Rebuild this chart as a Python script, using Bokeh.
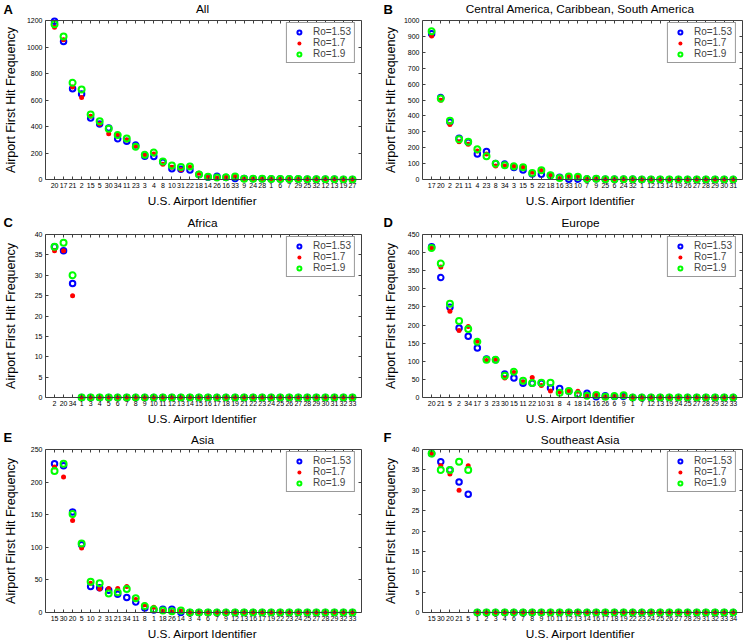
import math
from bokeh.plotting import figure
from bokeh.models import Range1d, LinearAxis, FixedTicker, Label, Legend, LegendItem
from bokeh.layouts import column, row
from bokeh.embed import file_html
from bokeh.resources import INLINE

FONT = "Liberation Sans"

series_labels = ["Ro=1.53", "Ro=1.7", "Ro=1.9"]
letters = ["A", "B", "C", "D", "E", "F"]
titles = ["All", "Central America, Caribbean, South America", "Africa",
          "Europe", "Asia", "Southeast Asia"]
x_title = "U.S. Airport Identifier"
y_title = "Airport First Hit Frequency"

# Panel A - All
cats_A = [20, 17, 21, 2, 15, 5, 30, 34, 11, 23, 3, 4, 8, 10, 31, 22, 18, 14, 26, 16, 33,
          9, 24, 28, 1, 6, 7, 29, 25, 32, 12, 13, 19, 27]
blue_A = [1195, 1041, 685, 646, 465, 418, 388, 307, 289, 260, 176, 173, 131, 82, 77, 72, 37,
          17, 25, 15, 7, 7, 6, 5, 4, 3, 3, 3, 2, 1, 1, 1, 0, 0]
red_A = [1150, 1054, 698, 618, 477, 418, 346, 341, 299, 255, 181, 193, 116, 92, 74, 92, 47,
         15, 12, 17, 22, 6, 6, 5, 4, 3, 3, 2, 2, 1, 1, 1, 0, 0]
green_A = [1172, 1079, 730, 680, 490, 440, 383, 336, 309, 247, 186, 203, 136, 106, 94, 99, 37,
           20, 15, 17, 22, 6, 6, 5, 4, 3, 3, 3, 2, 1, 1, 1, 0, 0]

# Panel B - Central America, Caribbean, South America
cats_B = [17, 20, 2, 21, 11, 4, 23, 8, 34, 3, 15, 5, 22, 18, 16, 33, 10, 7, 9, 25, 6, 24,
          32, 1, 12, 13, 14, 19, 26, 27, 28, 29, 30, 31]
blue_B = [917, 515, 362, 259, 234, 161, 176, 101, 97, 75, 60, 35, 33, 25, 14, 2, 2, 3, 4, 2,
          1, 1, 1, 0, 0, 0, 0, 0, 0, 0, 0, 0, 0, 0]
red_B = [903, 499, 346, 238, 221, 180, 161, 85, 85, 83, 77, 46, 56, 25, 6, 19, 19, 3, 4, 2,
         1, 1, 1, 0, 0, 0, 0, 0, 0, 0, 0, 0, 0, 0]
green_B = [932, 509, 370, 253, 238, 190, 147, 99, 89, 83, 77, 41, 58, 27, 10, 19, 18, 3, 4, 2,
           1, 1, 1, 0, 0, 0, 0, 0, 0, 0, 0, 0, 0, 0]

# Panel C - Africa
cats_C = [2, 20, 34, 1, 3, 4, 5, 6, 7, 8, 9, 10, 11, 12, 13, 14, 15, 16, 17, 18, 19, 21, 22,
          23, 24, 25, 26, 27, 28, 29, 30, 31, 32, 33]
blue_C = [37, 36, 28, 0, 0, 0, 0, 0, 0, 0, 0, 0, 0, 0, 0, 0, 0, 0, 0, 0, 0, 0, 0, 0, 0, 0,
          0, 0, 0, 0, 0, 0, 0, 0]
red_C = [36, 36, 25, 0, 0, 0, 0, 0, 0, 0, 0, 0, 0, 0, 0, 0, 0, 0, 0, 0, 0, 0, 0, 0, 0, 0,
         0, 0, 0, 0, 0, 0, 0, 0]
green_C = [37, 38, 30, 0, 0, 0, 0, 0, 0, 0, 0, 0, 0, 0, 0, 0, 0, 0, 0, 0, 0, 0, 0, 0, 0, 0,
           0, 0, 0, 0, 0, 0, 0, 0]

# Panel D - Europe
cats_D = [20, 21, 5, 2, 34, 17, 3, 23, 30, 15, 11, 22, 10, 31, 8, 4, 18, 14, 16, 26, 6, 9,
          1, 7, 12, 13, 19, 24, 25, 27, 28, 29, 32, 33]
blue_D = [416, 331, 249, 192, 169, 137, 106, 104, 65, 54, 39, 39, 39, 26, 25, 17, 9, 12, 2,
          5, 3, 3, 0, 0, 0, 0, 0, 0, 0, 0, 0, 0, 0, 0]
red_D = [413, 360, 238, 185, 196, 155, 102, 106, 54, 69, 43, 55, 33, 18, 16, 18, 17, 6, 7,
         2, 3, 3, 0, 0, 0, 0, 0, 0, 0, 0, 0, 0, 0, 0]
green_D = [413, 370, 259, 211, 189, 154, 104, 104, 60, 71, 46, 40, 41, 41, 13, 18, 9, 5, 7,
           2, 4, 6, 0, 0, 0, 0, 0, 0, 0, 0, 0, 0, 0, 0]

# Panel E - Asia
cats_E = [15, 30, 20, 5, 10, 2, 31, 21, 34, 11, 8, 1, 18, 26, 14, 3, 4, 6, 7, 9, 12, 13, 16,
          17, 19, 22, 23, 24, 25, 27, 28, 29, 32, 33]
blue_E = [228, 225, 154, 104, 40, 38, 34, 28, 23, 16, 7, 4, 5, 5, 0, 0, 0, 0, 0, 0, 0, 0, 0,
          0, 0, 0, 0, 0, 0, 0, 0, 0, 0, 0]
red_E = [223, 208, 141, 99, 45, 36, 37, 37, 40, 20, 12, 8, 2, 1, 2, 0, 0, 0, 0, 0, 0, 0, 0,
         0, 0, 0, 0, 0, 0, 0, 0, 0, 0, 0]
green_E = [217, 228, 151, 106, 47, 45, 29, 31, 36, 22, 10, 5, 3, 2, 3, 0, 0, 0, 0, 0, 0, 0,
           0, 0, 0, 0, 0, 0, 0, 0, 0, 0, 0, 0]

# Panel F - Southeast Asia
cats_F = [15, 30, 20, 21, 5, 1, 2, 3, 4, 6, 7, 8, 9, 10, 11, 12, 13, 14, 16, 17, 18, 19, 22,
          23, 24, 25, 26, 27, 28, 29, 31, 32, 33, 34]
blue_F = [39, 37, 35, 32, 29, 0, 0, 0, 0, 0, 0, 0, 0, 0, 0, 0, 0, 0, 0, 0, 0, 0, 0, 0, 0, 0,
          0, 0, 0, 0, 0, 0, 0, 0]
red_F = [39, 36, 34, 30, 36, 0, 0, 0, 0, 0, 0, 0, 0, 0, 0, 0, 0, 0, 0, 0, 0, 0, 0, 0, 0, 0,
         0, 0, 0, 0, 0, 0, 0, 0]
green_F = [39, 35, 35, 37, 35, 0, 0, 0, 0, 0, 0, 0, 0, 0, 0, 0, 0, 0, 0, 0, 0, 0, 0, 0, 0, 0,
           0, 0, 0, 0, 0, 0, 0, 0]

y_max = [1200, 1000, 40, 450, 250, 40]
y_step = [200, 100, 5, 50, 50, 5]

panel_data = [
    (cats_A, blue_A, red_A, green_A),
    (cats_B, blue_B, red_B, green_B),
    (cats_C, blue_C, red_C, green_C),
    (cats_D, blue_D, red_D, green_D),
    (cats_E, blue_E, red_E, green_E),
    (cats_F, blue_F, red_F, green_F),
]

AX_COLOR = "#404040"
TICK_FS = 7
LABEL_FS = "11.8px"
YLABEL_FS = "12.5px"
PAGE_W = 748

# column geometry: figure width, left/right borders
COL_GEOM = [dict(width=380, bl=43, br=19, letter_x=3, ylab_gap=22),
            dict(width=368, bl=38, br=6, letter_x=383, ylab_gap=19)]
COL_X0 = [0, 380]
ROW_H = [178, 182, 182]
FIG_BB = 11
PAD = 4

# strips between rows: height, and (kind, offset from strip top, row index)
STRIPS = [
    dict(h=16, items=[("title", 8.5, 0), ("letter", 8.5, 0)]),
    dict(h=36, items=[("xlabel", 6, 0), ("title", 28.5, 1), ("letter", 28, 1)]),
    dict(h=33, items=[("xlabel", 6, 1), ("title", 27, 2), ("letter", 25, 2)]),
    dict(h=13, items=[("xlabel", 6.5, 2)]),
]


def style_axis(ax, show_labels, show_line=True):
    ax.axis_line_color = AX_COLOR if show_line else None
    ax.axis_line_width = 1
    ax.major_tick_line_color = AX_COLOR if show_line else None
    ax.major_tick_in = 3
    ax.major_tick_out = 0
    ax.minor_tick_line_color = None
    ax.major_label_text_font = FONT
    if show_labels:
        ax.major_label_text_color = "black"
        ax.major_label_text_font_size = f"{TICK_FS}px"
        ax.major_label_standoff = 3
    else:
        ax.major_label_text_color = None
        ax.major_label_text_font_size = "0px"
        ax.major_label_standoff = 0


def frame_center_x(col):
    cg = COL_GEOM[col]
    fw = cg["width"] - cg["bl"] - cg["br"]
    return COL_X0[col] + cg["bl"] + fw / 2


def build(idx):
    cats, blue, red, green = panel_data[idx]
    cg = COL_GEOM[idx % 2]
    fig_h = ROW_H[idx // 2]
    frame_h = fig_h - FIG_BB
    ymax = y_max[idx]
    u = ymax / (frame_h - 2 * PAD)
    n = len(cats)
    xs = list(range(1, n + 1))

    p = figure(width=cg["width"], height=fig_h, title=None,
               x_range=Range1d(0, n + 1), y_range=Range1d(-PAD * u, ymax + PAD * u),
               output_backend="svg", toolbar_location=None, tools="",
               min_border_left=cg["bl"], min_border_right=cg["br"],
               min_border_top=0, min_border_bottom=FIG_BB)
    p.outline_line_color = None
    p.xgrid.visible = False
    p.ygrid.visible = False
    p.background_fill_color = "white"
    p.border_fill_color = "white"

    xt = FixedTicker(ticks=xs)
    nt = int(round(ymax / y_step[idx]))
    yticks = [k * y_step[idx] for k in range(nt + 1)]
    yt = FixedTicker(ticks=yticks)

    # labelled x axis at the frame bottom; labels pulled up so they sit just under y=0
    xa = p.xaxis[0]
    xa.ticker = xt
    xa.major_label_overrides = {x: str(c) for x, c in zip(xs, cats)}
    style_axis(xa, True, show_line=False)
    xa.major_tick_in = 0
    xa.major_tick_out = 0
    xa.major_label_standoff = 3 - PAD

    # box line + inward ticks at y = 0
    zero = LinearAxis(ticker=xt, fixed_location=0)
    style_axis(zero, False)
    p.add_layout(zero, "below")

    ya = p.yaxis[0]
    ya.ticker = yt
    ya.bounds = (0, ymax)
    style_axis(ya, True)
    label_w = max(len(str(t)) for t in yticks) * 0.556 * TICK_FS
    ya.axis_label = y_title
    ya.axis_label_text_font = FONT
    ya.axis_label_text_font_size = YLABEL_FS
    ya.axis_label_text_font_style = "normal"
    ya.axis_label_text_color = "black"
    ya.axis_label_standoff = max(1, int(round(cg["ylab_gap"] - label_w)))

    top = LinearAxis(ticker=xt, fixed_location=ymax)
    style_axis(top, False)
    p.add_layout(top, "above")
    right = LinearAxis(ticker=yt, bounds=(0, ymax))
    style_axis(right, False)
    p.add_layout(right, "right")

    rb = p.scatter(xs, blue, marker="circle", size=5.5, fill_color=None,
                   line_color="#0000ff", line_width=2)
    rr = p.scatter(xs, red, marker="circle", size=5, fill_color="#ff0000",
                   line_color=None)
    rgn = p.scatter(xs, green, marker="circle", size=6, fill_color=None,
                    line_color="#00ff00", line_width=2)

    leg = Legend(items=[LegendItem(label=series_labels[0], renderers=[rb]),
                        LegendItem(label=series_labels[1], renderers=[rr]),
                        LegendItem(label=series_labels[2], renderers=[rgn])],
                 location="top_right", margin=6, padding=3, spacing=0,
                 glyph_width=18, glyph_height=10, label_height=10, label_standoff=5,
                 label_text_font=FONT, label_text_font_size="10px",
                 border_line_color="#333333", border_line_width=1,
                 background_fill_color="white", background_fill_alpha=1)
    p.add_layout(leg)
    return p


def build_strip(spec):
    h = spec["h"]
    s = figure(width=PAGE_W, height=h, title=None, x_range=Range1d(0, PAGE_W),
               y_range=Range1d(0, h), output_backend="svg", toolbar_location=None,
               tools="", x_axis_location=None, y_axis_location=None,
               min_border_left=0, min_border_right=0, min_border_top=0,
               min_border_bottom=0)
    s.outline_line_color = None
    s.xgrid.visible = False
    s.ygrid.visible = False
    s.background_fill_color = "white"
    s.border_fill_color = "white"
    for kind, d, r in spec["items"]:
        for col in range(2):
            idx = r * 2 + col
            if kind == "title":
                s.add_layout(Label(x=frame_center_x(col), y=h - d, x_units="screen",
                                   y_units="screen", text=titles[idx], text_font=FONT,
                                   text_font_size=LABEL_FS, text_align="center",
                                   text_baseline="middle", text_color="black"))
            elif kind == "letter":
                s.add_layout(Label(x=COL_GEOM[col]["letter_x"], y=h - d, x_units="screen",
                                   y_units="screen", text=letters[idx], text_font=FONT,
                                   text_font_size="13px", text_font_style="bold",
                                   text_align="left", text_baseline="middle",
                                   text_color="black"))
            else:
                s.add_layout(Label(x=frame_center_x(col), y=h - d, x_units="screen",
                                   y_units="screen", text=x_title, text_font=FONT,
                                   text_font_size=LABEL_FS, text_align="center",
                                   text_baseline="middle", text_color="black"))
    return s


figs = [build(i) for i in range(6)]
strips = [build_strip(sp) for sp in STRIPS]
layout = column(strips[0], row(figs[0], figs[1]),
                strips[1], row(figs[2], figs[3]),
                strips[2], row(figs[4], figs[5]),
                strips[3])

open("out.html", "w").write(file_html(layout, INLINE))
